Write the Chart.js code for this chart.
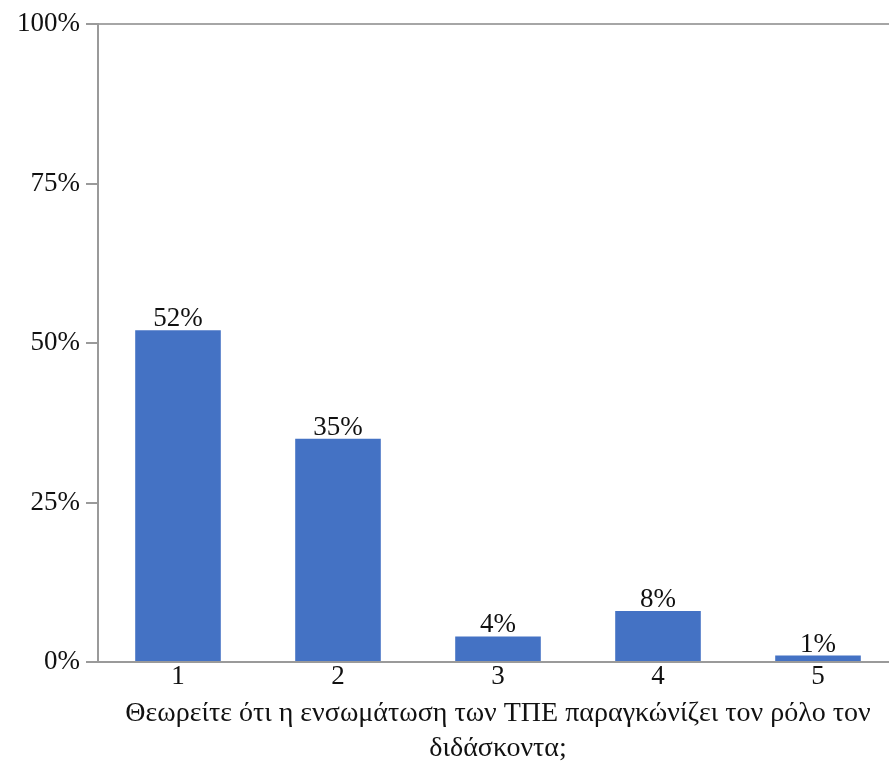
<!DOCTYPE html>
<html>
<head>
<meta charset="utf-8">
<script src="https://cdn.jsdelivr.net/npm/chart.js@4"></script>
<style>
html,body{margin:0;padding:0;background:#fff;overflow:hidden;}
#wrap{position:absolute;left:0;top:0;width:898px;height:762px;}
</style>
</head>
<body>
<div id="wrap"><canvas id="c"></canvas></div>
<script>
const categories = ['1', '2', '3', '4', '5'];
const values = [52, 35, 4, 8, 1];
const yTicks = [0, 25, 50, 75, 100];
const axisTitle = ['Θεωρείτε ότι η ενσωμάτωση των ΤΠΕ παραγκώνίζει τον ρόλο τον', 'διδάσκοντα;'];

const FONT = "'Liberation Serif', 'Times New Roman', serif";

const labelPlugin = {
  id: 'barLabels',
  afterDatasetsDraw(chart) {
    const ctx = chart.ctx;
    const meta = chart.getDatasetMeta(0);
    ctx.save();
    ctx.font = '27px ' + FONT;
    ctx.fillStyle = '#111';
    ctx.textAlign = 'center';
    ctx.textBaseline = 'alphabetic';
    meta.data.forEach((el, i) => {
      ctx.fillText(values[i] + '%', el.x, el.y - 4);
    });
    ctx.restore();
  }
};

new Chart(document.getElementById('c'), {
  type: 'bar',
  data: {
    labels: categories,
    datasets: [{
      data: values,
      backgroundColor: '#4472C4',
      borderWidth: 0,
      categoryPercentage: 1,
      barPercentage: 0.535
    }]
  },
  options: {
    responsive: true,
    maintainAspectRatio: false,
    animation: false,
    layout: { padding: { top: 24, left: 0, right: 0, bottom: 0 } },
    plugins: { legend: { display: false }, tooltip: { enabled: false } },
    scales: {
      y: {
        min: 0, max: 100,
        afterBuildTicks(axis) { axis.ticks = yTicks.map(v => ({ value: v })); },
        afterFit(axis) { axis.width = 98; },
        border: { display: true, color: '#9a9a9a', width: 2 },
        grid: {
          drawOnChartArea: true,
          color: (c) => (c.tick && c.tick.value === 100) ? '#a6a6a6' : 'rgba(0,0,0,0)',
          tickColor: '#9a9a9a',
          tickLength: 12,
          lineWidth: 2
        },
        ticks: {
          padding: 6,
          color: '#111',
          font: { family: FONT, size: 27 },
          callback: (v) => v + '%'
        }
      },
      x: {
        afterFit(axis) { axis.height = 100; },
        border: { display: true, color: '#9a9a9a', width: 2 },
        grid: { display: false, drawTicks: false },
        ticks: {
          padding: 0,
          color: '#111',
          font: { family: FONT, size: 27, lineHeight: 1.1 }
        },
        title: {
          display: true,
          text: axisTitle,
          color: '#111',
          font: { family: FONT, size: 28, lineHeight: 1.25 },
          padding: { top: 4, bottom: -4 }
        }
      }
    }
  },
  plugins: [labelPlugin]
});
</script>
</body>
</html>
